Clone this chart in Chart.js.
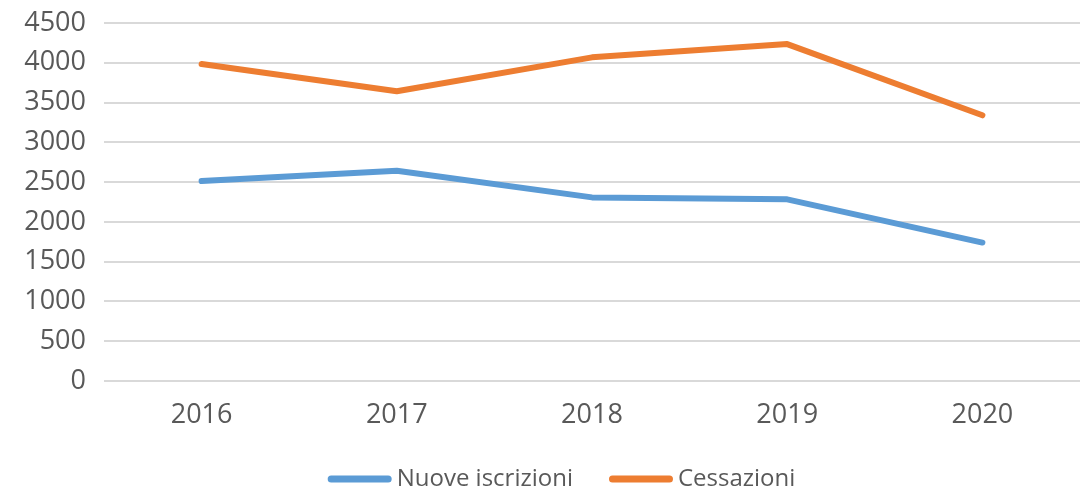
<!DOCTYPE html>
<html><head><meta charset="utf-8">
<script src="https://cdn.jsdelivr.net/npm/chart.js@4/dist/chart.umd.min.js"></script>
<style>html,body{margin:0;padding:0;background:#fff;}canvas{display:block;}</style>
</head><body>
<canvas id="c" width="1084" height="491"></canvas>
<script>
const categories = ['2016','2017','2018','2019','2020'];
const nuoveIscrizioni = [2513, 2642, 2308, 2283, 1740];
const cessazioni = [3984, 3642, 4068, 4235, 3340];
const seriesNames = ['Nuove iscrizioni', 'Cessazioni'];
const yMin = 0, yMax = 4500, yStep = 500;

const txt = '#595959';
const ff = "'Open Sans', 'Liberation Sans', sans-serif";

const legendPlugin = {
  id: 'customLegend',
  afterDraw(chart) {
    const ctx = chart.ctx;
    const font = '24px ' + ff;
    ctx.save();
    ctx.font = font;
    const lineLen = 64, gap = 5, spacing = 36, cy = 479;
    const items = chart.data.datasets.map(d => ({ label: d.label, color: d.borderColor, w: ctx.measureText(d.label).width }));
    let total = 0;
    items.forEach((it, i) => { total += lineLen + gap + it.w + (i < items.length - 1 ? spacing : 0); });
    let x = 561.5 - total / 2;
    items.forEach(it => {
      ctx.beginPath();
      ctx.strokeStyle = it.color;
      ctx.lineWidth = 7;
      ctx.lineCap = 'round';
      ctx.moveTo(x + 3.5, cy);
      ctx.lineTo(x + lineLen - 3.5, cy);
      ctx.stroke();
      x += lineLen + gap;
      ctx.fillStyle = txt;
      ctx.textBaseline = 'middle';
      ctx.textAlign = 'left';
      ctx.fillText(it.label, x, cy);
      x += it.w + spacing;
    });
    ctx.restore();
  }
};

new Chart(document.getElementById('c'), {
  type: 'line',
  data: {
    labels: categories,
    datasets: [
      { label: seriesNames[0], data: nuoveIscrizioni, borderColor: '#5B9BD5', backgroundColor: '#5B9BD5',
        borderWidth: 6, pointRadius: 0, borderCapStyle: 'round', borderJoinStyle: 'round', tension: 0 },
      { label: seriesNames[1], data: cessazioni, borderColor: '#ED7D31', backgroundColor: '#ED7D31',
        borderWidth: 6, pointRadius: 0, borderCapStyle: 'round', borderJoinStyle: 'round', tension: 0 }
    ]
  },
  plugins: [legendPlugin],
  options: {
    responsive: false,
    animation: false,
    layout: { padding: { top: 23, right: 4, left: 0, bottom: 60 } },
    plugins: {
      tooltip: { enabled: false },
      legend: { display: false }
    },
    scales: {
      x: {
        offset: true,
        grid: { display: false, drawTicks: false },
        border: { display: false },
        ticks: { color: txt, font: { family: ff, size: 27 }, padding: 18 },
        afterFit(s) { s.height = 50; s.paddingLeft = 0; s.paddingRight = 0; }
      },
      y: {
        min: yMin, max: yMax,
        ticks: { stepSize: yStep, color: txt, font: { family: ff, size: 27 }, padding: 18,
                 callback: v => String(v) },
        grid: { color: '#d9d9d9', lineWidth: 2, drawTicks: false },
        border: { display: false },
        afterFit(s) { s.width = 104; s.paddingTop = 0; s.paddingBottom = 0; }
      }
    }
  }
});
</script>
</body></html>
